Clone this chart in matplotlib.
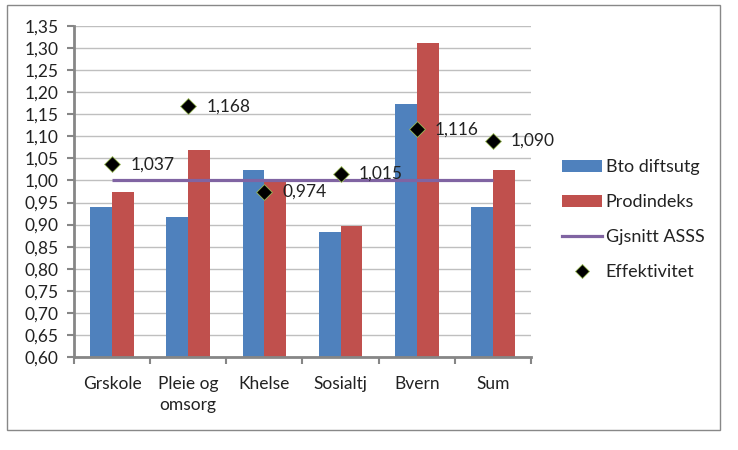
import matplotlib
matplotlib.use("Agg")
import matplotlib.pyplot as plt
import numpy as np
from matplotlib.ticker import FuncFormatter, FixedLocator
from matplotlib.patches import Patch, Rectangle
from matplotlib.lines import Line2D

categories = ["Grskole", "Pleie og\nomsorg", "Khelse", "Sosialtj", "Bvern", "Sum"]
bto_diftsutg = [0.939, 0.918, 1.023, 0.883, 1.174, 0.939]
prodindeks = [0.973, 1.070, 0.997, 0.896, 1.311, 1.024]
gjsnitt_asss = [1.0, 1.0, 1.0, 1.0, 1.0, 1.0]
effektivitet = [1.037, 1.168, 0.974, 1.015, 1.116, 1.090]
series_names = ["Bto diftsutg", "Prodindeks", "Gjsnitt ASSS", "Effektivitet"]

plt.rcParams['font.family'] = ['Lato', 'DejaVu Sans']
FS = 12.5

W, H = 738, 450
fig = plt.figure(figsize=(W/100, H/100), dpi=100)

# outer chart border
fig.patches.append(Rectangle((7/W, 1-430/H), (720-7)/W, (430-5)/H, transform=fig.transFigure,
                             fill=False, edgecolor="#888888", linewidth=1.0))

ax = fig.add_axes([74/W, 1-357/H, (531-74)/W, (357-26)/H])
x = np.arange(len(categories))
bw = 1/3.5
ax.bar(x - bw/2, bto_diftsutg, width=bw, color="#4F81BD", zorder=2)
ax.bar(x + bw/2, prodindeks, width=bw, color="#C0504D", zorder=2)
ax.plot(x, gjsnitt_asss, color="#8064A2", linewidth=2.3, zorder=3, solid_capstyle="butt")
ax.scatter(x, effektivitet, marker="D", s=65, color="black", edgecolors="#9BBB59",
           linewidths=0.6, zorder=4)

fmt = lambda v: f"{v:.3f}".replace(".", ",")
for xi, v in zip(x, effektivitet):
    ax.annotate(fmt(v), (xi, v), xytext=(13, 0), textcoords="offset points",
                va="center", ha="left", fontsize=FS, color="#222222", zorder=5)

ax.set_xlim(-0.5, len(categories) - 0.5)
ax.set_ylim(0.60, 1.35)
ax.yaxis.set_major_locator(FixedLocator(np.arange(0.60, 1.3501, 0.05)))
ax.yaxis.set_major_formatter(FuncFormatter(lambda v, p: f"{v:.2f}".replace(".", ",")))
ax.grid(axis="y", color="#BFBFBF", linewidth=1.0, zorder=0)
ax.set_axisbelow(True)

ax.set_xticks(np.arange(-0.5, len(categories)), minor=False)
ax.set_xticklabels([])
ax.set_xticks(x, minor=True)
ax.set_xticklabels(categories, minor=True, fontsize=FS, color="#222222", linespacing=1.35)
ax.tick_params(axis="x", which="minor", length=0, pad=14)
ax.tick_params(axis="x", which="major", length=5, width=1.5, color="#868686", direction="out")
ax.tick_params(axis="y", length=5, width=1.5, color="#868686", labelsize=FS,
               labelcolor="#222222", pad=6)
for lbl in ax.get_xticklabels(minor=True):
    lbl.set_verticalalignment("top")

for s in ["top", "right"]:
    ax.spines[s].set_visible(False)
for s in ["left", "bottom"]:
    ax.spines[s].set_color("#868686")
    ax.spines[s].set_linewidth(2.0)

handles = [Patch(facecolor="#4F81BD"), Patch(facecolor="#C0504D"),
           Line2D([0], [0], color="#8064A2", linewidth=2.3),
           Line2D([0], [0], marker="D", color="black", markeredgecolor="#9BBB59",
                  markeredgewidth=0.6, linestyle="none", markersize=7)]
leg = fig.legend(handles, series_names, loc="upper left", bbox_to_anchor=(555/W, 1-152/H),
                 frameon=False, fontsize=13, handlelength=2.2, handleheight=0.6,
                 labelspacing=1.05, handletextpad=0.2, borderaxespad=0)
for t in leg.get_texts():
    t.set_color("#222222")

fig.savefig("out.png", dpi=100)
